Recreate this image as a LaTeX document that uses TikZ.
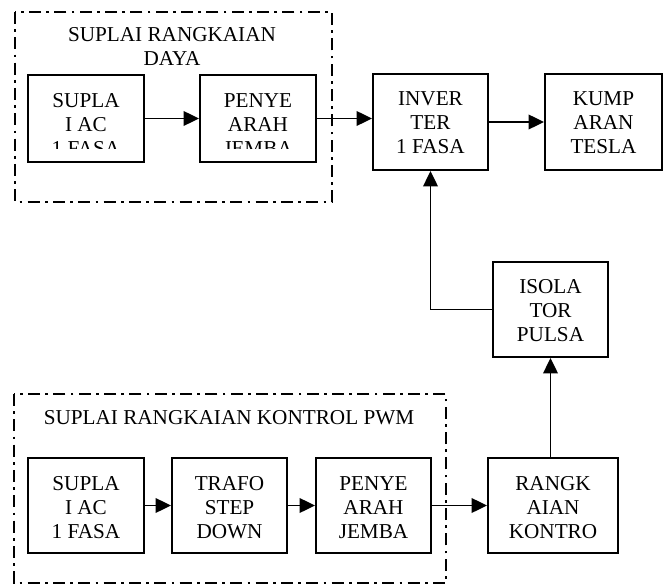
\documentclass[tikz,border=0pt]{standalone}
\usepackage{fontspec}
\setmainfont{Liberation Serif}
\usetikzlibrary{arrows.meta}

\tikzset{
  blok/.style={draw, line width=1.6pt, inner sep=0pt, minimum width=87pt, minimum height=71.25pt},
  teks/.style={align=center, inner sep=0pt, font=\fontsize{15.9}{18}\selectfont},
  panah/.style={line width=1.2pt, -{Triangle[length=11.5pt,width=11pt]}},
  grup/.style={line width=1.6pt, dash pattern=on 9pt off 4pt on 2pt off 4pt},
}

\begin{document}
\begin{tikzpicture}[x=0.75pt, y=-0.75pt]
	\useasboundingbox (0,0) rectangle (663,584);

	% kotak grup
	\draw[grup] (15,12) rectangle (332,202);
	\draw[grup] (14,394) rectangle (446,583);
	\node[teks] (jdl1) at (172,47) {SUPLAI RANGKAIAN\\DAYA};
	\node[teks] (jdl2) at (229,418) {SUPLAI RANGKAIAN KONTROL PWM};

	% rangkaian daya
	\node[blok, minimum height=65.25pt] (sac1) at (86,118.5) {};
	\node[blok, minimum height=65.25pt] (pye1) at (258,118.5) {};
	\begin{scope}
		\clip (28,76) rectangle (316,149);
		\node[teks] (sac1t) at (86,125) {SUPLA\\I AC\\1 FASA};
		\node[teks] (pye1t) at (258,125) {PENYE\\ARAH\\JEMBA};
	\end{scope}
	\node[blok, minimum width=86.25pt, minimum height=72pt] (inv) at (430.5,122) {};
	\node[teks] (invt) at (430.5,123) {INVER\\TER\\1 FASA};
	\node[blok, minimum width=87.75pt, minimum height=72pt] (kmp) at (603.5,122) {};
	\node[teks] (kmpt) at (603.5,123) {KUMP\\ARAN\\TESLA};
	\node[blok, minimum width=86.25pt] (iso) at (550.5,309.5) {};
	\node[teks] (isot) at (550.5,311) {ISOLA\\TOR\\PULSA};

	% rangkaian kontrol
	\node[blok] (sac2) at (86,505.5) {};
	\node[teks] (sac2t) at (86,507.5) {SUPLA\\I AC\\1 FASA};
	\node[blok, minimum width=86.25pt] (trf) at (229.5,505.5) {};
	\node[teks] (trft) at (229.5,507.5) {TRAFO\\STEP\\DOWN};
	\node[blok, minimum width=86.25pt] (pye2) at (373.5,505.5) {};
	\node[teks] (pye2t) at (373.5,507.5) {PENYE\\ARAH\\JEMBA};
	\node[blok, minimum width=97.5pt] (rk) at (553,505.5) {};
	\node[teks] (rkt) at (553,507.5) {RANGK\\AIAN\\KONTRO};

	% panah
	\draw[panah] (sac1) -- (pye1);
	\draw[panah] (pye1.east) -- (pye1.east -| inv.west);
	\draw[panah] (inv) -- (kmp);
	\draw[panah] (iso.west) -| (inv.south);
	\draw[panah] (iso.south |- rk.north) -- (iso.south);
	\draw[panah] (sac2) -- (trf);
	\draw[panah] (trf) -- (pye2);
	\draw[panah] (pye2) -- (rk);

\end{tikzpicture}
\end{document}
